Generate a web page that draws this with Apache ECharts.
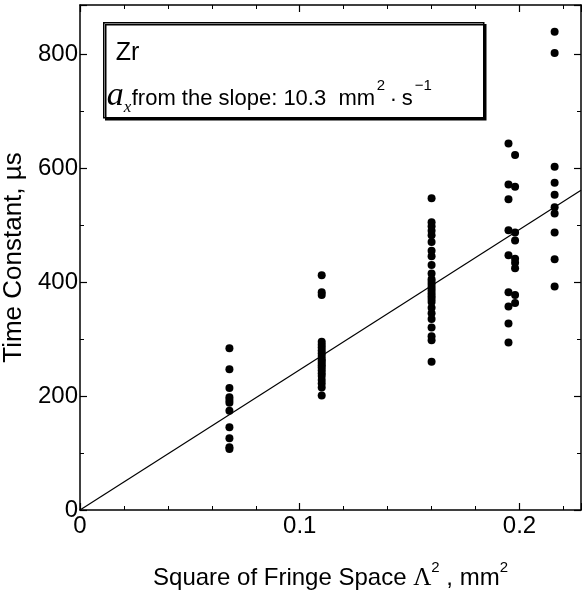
<!doctype html>
<html>
<head>
<meta charset="utf-8"/>
<style>
  html, body { margin: 0; padding: 0; background: #fff; }
  #chart { width: 582px; height: 604px; }
</style>
<script src="https://cdn.jsdelivr.net/npm/echarts@6/dist/echarts.min.js"></script>
</head>
<body>
<div id="chart"></div>
<script>
// Time constant vs square of fringe space, Zr sample.
// One column of dots per fringe spacing.
const col1X = 0.068;
const col1Y = [284, 247, 214, 198, 193, 188, 174, 145, 126, 110, 107];

const col2X = 0.110;
const col2Y = [412, 382, 377, 295, 290, 285, 280, 275, 270, 265, 262, 258, 254,
               250, 245, 240, 235, 228, 222, 215, 201];

const col3X = 0.160;
const col3Y = [547, 505, 498, 490, 482, 470, 455, 445, 430, 415, 405, 400, 395,
               390, 385, 380, 375, 370, 365, 355, 345, 335, 320, 305, 298, 260];

const col4aX = 0.195;
const col4aY = [643, 571, 545, 491, 447, 382, 357, 327, 294];
const col4bX = 0.198;
const col4bY = [623, 567, 487, 473, 441, 434, 424, 377, 363];

const col5X = 0.216;
const col5Y = [839, 802, 602, 574, 553, 531, 520, 487, 440, 392];

// least-squares line through the origin, endpoints at the frame edges
const fitX = [0, 0.228];
const fitY = [0, 561];

const xTicks = { min: 0, max: 0.228, interval: 0.1 };
const yTicks = { min: 0, max: 886, interval: 200 };

const FONT = "'Liberation Sans', Arial, Helvetica, sans-serif";
const SERIF = "'Liberation Serif', 'Times New Roman', serif";

const pts = [];
for (const [x, ys] of [[col1X, col1Y], [col2X, col2Y], [col3X, col3Y],
                        [col4aX, col4aY], [col4bX, col4bY], [col5X, col5Y]]) {
  for (const y of ys) pts.push([x, y]);
}

const axisBase = {
  axisLine: { show: true, onZero: false, lineStyle: { color: '#000', width: 1.5 } },
  axisTick: { show: true, inside: true, length: 7, lineStyle: { color: '#000', width: 1.2 } },
  minorTick: { show: true, length: 4, lineStyle: { color: '#000', width: 1 } },
  splitLine: { show: false },
};

const chart = echarts.init(document.getElementById('chart'), null, { renderer: 'canvas' });
chart.setOption({
  animation: false,
  backgroundColor: '#fff',
  grid: { left: 80, right: 1, top: 5, bottom: 94, containLabel: false, outerBoundsMode: 'none' },
  xAxis: [
    Object.assign({}, axisBase, {
      type: 'value', min: xTicks.min, max: xTicks.max, interval: xTicks.interval,
      minorTick: Object.assign({}, axisBase.minorTick, { splitNumber: 5 }),
      axisLabel: { color: '#000', fontFamily: FONT, fontSize: 24, margin: 4, showMaxLabel: false },
      name: 'Square of Fringe Space {lam|Λ}{sup|2} , mm{sup|2}',
      nameLocation: 'middle', nameGap: 50,
      nameTextStyle: {
        color: '#000', fontFamily: FONT, fontSize: 24, lineHeight: 36, verticalAlign: 'top',
        rich: {
          sup: { fontSize: 15, fontFamily: FONT, color: '#000', verticalAlign: 'top', lineHeight: 15 },
          lam: { fontSize: 25, fontFamily: SERIF, color: '#000' },
        },
      },
    }),
    Object.assign({}, axisBase, {
      type: 'value', position: 'top', min: xTicks.min, max: xTicks.max, interval: xTicks.interval,
      minorTick: Object.assign({}, axisBase.minorTick, { splitNumber: 5 }),
      axisLabel: { show: false },
    }),
  ],
  yAxis: [
    Object.assign({}, axisBase, {
      type: 'value', min: yTicks.min, max: yTicks.max, interval: yTicks.interval,
      minorTick: Object.assign({}, axisBase.minorTick, { splitNumber: 2 }),
      axisLabel: { color: '#000', fontFamily: FONT, fontSize: 24, margin: 2, showMaxLabel: false },
      name: 'Time Constant, µs',
      nameLocation: 'middle', nameGap: 45,
      nameTextStyle: { color: '#000', fontFamily: FONT, fontSize: 26 },
    }),
    Object.assign({}, axisBase, {
      type: 'value', position: 'right', min: yTicks.min, max: yTicks.max, interval: yTicks.interval,
      minorTick: Object.assign({}, axisBase.minorTick, { splitNumber: 2 }),
      axisLabel: { show: false },
    }),
  ],
  series: [
    {
      type: 'line',
      data: fitX.map((x, i) => [x, fitY[i]]),
      showSymbol: false,
      lineStyle: { color: '#000', width: 1.2 },
      silent: true,
    },
    {
      type: 'scatter',
      data: pts,
      symbol: 'circle',
      symbolSize: 8,
      itemStyle: { color: '#000', opacity: 1 },
    },
  ],
  graphic: [
    {
      type: 'group', left: 103, top: 22,
      children: [
        {
          type: 'rect', shape: { x: 0, y: 0, width: 380, height: 95 },
          style: { fill: '#fff', stroke: '#000', lineWidth: 1.5,
                   shadowColor: '#000', shadowOffsetX: 2, shadowOffsetY: 2, shadowBlur: 0 },
        },
        { type: 'text', x: 12, y: 18,
          style: { text: 'Zr', font: '25px ' + FONT, fill: '#000' } },
        { type: 'text', x: 3, y: 56,
          style: { text: 'a', font: 'italic 34px ' + SERIF, fill: '#000' } },
        { type: 'text', x: 20, y: 76,
          style: { text: 'x', font: 'italic 17px ' + SERIF, fill: '#000' } },
        { type: 'text', x: 28, y: 65,
          style: { text: 'from the slope: 10.3  mm', font: '22px ' + FONT, fill: '#000' } },
        { type: 'text', x: 273, y: 56,
          style: { text: '2', font: '15px ' + FONT, fill: '#000' } },
        { type: 'text', x: 286, y: 66,
          style: { text: '·', font: '22px ' + FONT, fill: '#000' } },
        { type: 'text', x: 298, y: 65,
          style: { text: 's', font: '22px ' + FONT, fill: '#000' } },
        { type: 'text', x: 311, y: 56,
          style: { text: '−1', font: '15px ' + FONT, fill: '#000' } },
      ],
    },
  ],
});
</script>
</body>
</html>
